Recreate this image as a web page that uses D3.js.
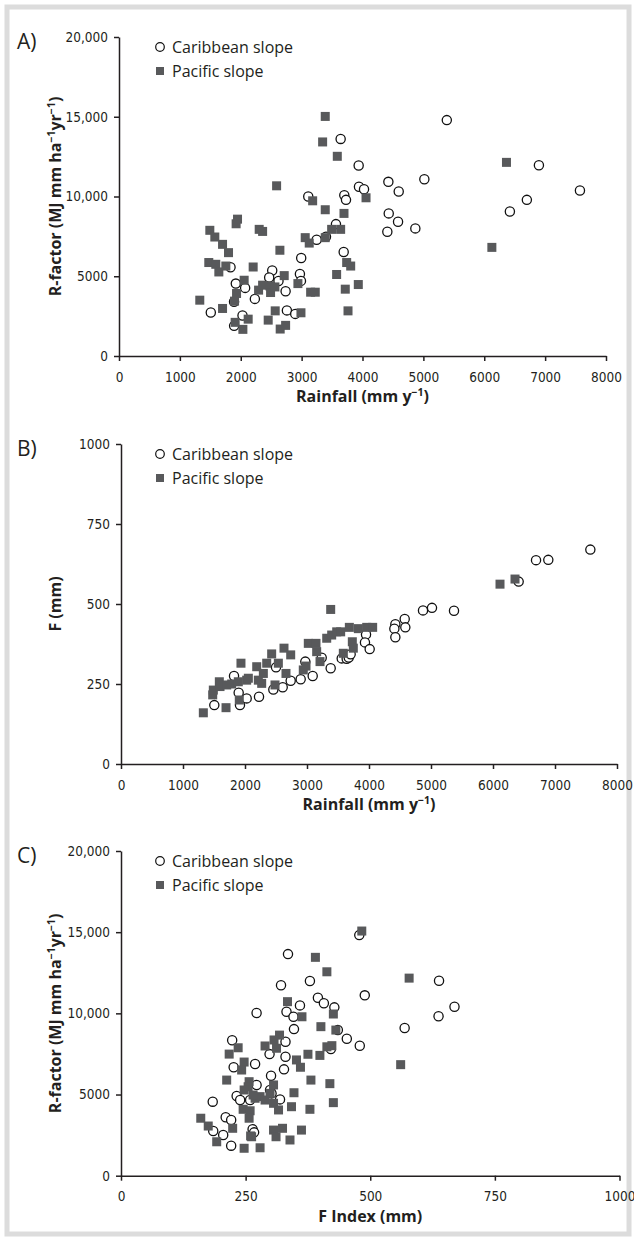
<!DOCTYPE html>
<html lang="en">
<head>
<meta charset="utf-8">
<title>R-factor, F index and rainfall</title>
<script src="https://d3js.org/d3.v7.min.js"></script>
<style>
  body { margin: 0; background: #fff; }
  .tick text { font-family: "Liberation Sans Narrow", "DejaVu Sans Condensed", sans-serif; font-size: 13.5px; fill: #231f20; }
  .domain, .tick line { stroke: #231f20; stroke-width: 1.5px; }
  .title { font-family: "Open Sans", "Noto Sans", sans-serif; font-weight: bold; font-size: 16px; fill: #231f20; }
  .legend { font-family: "Open Sans", "Noto Sans", sans-serif; font-size: 16px; fill: #231f20; }
  .panel-label { font-family: "Open Sans", "Noto Sans", sans-serif; font-size: 21px; fill: #231f20; }
</style>
</head>
<body>
<script>
// legend + tick labels
const seriesNames = ["Caribbean slope", "Pacific slope"];
const rainTicks = [0, 1000, 2000, 3000, 4000, 5000, 6000, 7000, 8000];
const rTicks = [0, 5000, 10000, 15000, 20000];
const rTickLabels = ["0", "5000", "10,000", "15,000", "20,000"];
const fTicks = [0, 250, 500, 750, 1000];

// A) rainfall (mm/yr) vs R-factor
const caribRainR = [
  [3641, 13610], [3937, 11940], [3942, 10610], [4025, 10460], [4425, 10920], [4595, 10310],
  [3109, 10000], [3701, 10080], [3729, 9790], [4431, 8940], [4584, 8420], [4408, 7790],
  [4868, 8000], [3564, 8270], [3247, 7290], [3400, 7480], [3691, 6520], [2993, 6140],
  [1832, 5560], [2517, 5360], [2467, 4920], [2972, 5140], [2989, 4710], [1919, 4540],
  [2072, 4270], [2620, 4700], [2737, 4060], [2232, 3580], [1508, 2730], [2029, 2540],
  [2758, 2860], [2895, 2640], [1891, 1890], [1890, 3400], [5385, 14790], [6898, 11960],
  [7572, 10380], [6700, 9790], [6421, 9060], [5016, 11080]
];
const pacificRainR = [
  [3345, 13420], [3586, 12520], [2589, 10670], [3181, 9730], [3388, 9170], [3696, 8940],
  [4058, 9920], [1947, 8580], [1924, 8290], [1492, 7880], [1574, 7460], [1701, 7000],
  [1799, 6480], [2303, 7940], [2359, 7810], [2643, 6630], [3059, 7420], [3125, 7080],
  [3388, 7420], [3493, 7940], [3641, 7940], [1475, 5860], [1590, 5750], [1640, 5270],
  [1755, 5640], [2204, 5580], [2714, 5040], [3575, 5110], [3740, 5860], [3806, 5640],
  [3717, 4190], [3931, 4480], [1327, 3500], [1701, 2980], [1898, 3440], [1931, 3920],
  [2056, 4750], [2122, 2310], [2293, 4130], [2359, 4440], [2479, 4390], [2490, 3980],
  [2561, 4330], [2939, 4540], [3148, 4000], [3224, 4000], [2566, 2830], [2451, 2250],
  [2648, 1690], [2737, 1920], [2989, 2710], [2035, 1670], [1908, 2110], [3762, 2830],
  [3388, 15020], [6365, 12140], [6125, 6810]
];

// B) rainfall vs F (mm)
const caribRainF = [
  [1505, 184], [1823, 275], [1898, 223], [1919, 184], [2027, 205], [2226, 210],
  [2457, 233], [2608, 240], [2500, 302], [2737, 260], [2898, 265], [2973, 320],
  [3092, 275], [3237, 332], [3382, 299], [3560, 330], [3640, 329], [3673, 333],
  [3704, 343], [3952, 405], [3935, 380], [4011, 359], [4425, 437], [4576, 453],
  [4586, 427], [4409, 423], [4425, 396], [4871, 480], [5016, 488], [5371, 479],
  [6414, 570], [6694, 637], [6892, 638], [7570, 670]
];
const pacificRainF = [
  [1328, 160], [1694, 176], [1479, 216], [1489, 231], [1586, 257], [1597, 242],
  [1705, 247], [1785, 250], [1892, 257], [1935, 315], [1908, 200], [2027, 262],
  [2054, 268], [2189, 304], [2215, 262], [2269, 252], [2296, 283], [2350, 315],
  [2430, 344], [2538, 315], [2629, 362], [2737, 341], [2661, 283], [2484, 247],
  [2940, 294], [2984, 306], [3021, 377], [3145, 377], [3156, 351], [3210, 320],
  [3318, 393], [3398, 403], [3479, 413], [3382, 483], [3543, 413], [3586, 346],
  [3683, 427], [3731, 382], [3747, 362], [3828, 423], [3963, 427], [4059, 427],
  [6113, 562], [6355, 578]
];

// C) F index vs R-factor
const caribFR = [
  [478, 14820], [335, 13650], [321, 11730], [379, 11990], [395, 10960], [407, 10620],
  [428, 10370], [489, 11110], [359, 10490], [272, 10020], [332, 10100], [346, 9790],
  [347, 9030], [435, 8970], [453, 8440], [479, 8000], [421, 7800], [569, 9100],
  [223, 8340], [330, 8250], [298, 7490], [330, 7330], [269, 6880], [226, 6680],
  [327, 6550], [301, 6160], [272, 5590], [299, 5280], [302, 5070], [319, 4700],
  [232, 4910], [239, 4660], [184, 4560], [259, 4660], [210, 3600], [221, 3430],
  [185, 2750], [205, 2510], [264, 2860], [267, 2670], [221, 1850], [638, 12010],
  [669, 10410], [637, 9820]
];
const pacificFR = [
  [483, 15070], [390, 13450], [413, 12560], [578, 12170], [561, 6840], [334, 10720],
  [363, 9790], [426, 9960], [401, 9180], [431, 8970], [318, 8660], [307, 8360],
  [289, 7990], [312, 7850], [235, 7880], [217, 7490], [247, 7000], [242, 6510],
  [212, 5890], [352, 7130], [360, 6680], [375, 7480], [399, 7410], [413, 7940],
  [423, 8010], [381, 5890], [419, 5670], [347, 5110], [426, 4500], [342, 4250],
  [379, 4090], [257, 5790], [255, 5480], [247, 5280], [269, 4770], [279, 4870],
  [289, 4660], [299, 5070], [306, 5590], [306, 4460], [316, 4050], [245, 4090],
  [259, 4000], [257, 3540], [160, 3540], [175, 3060], [224, 2920], [260, 2450],
  [306, 2810], [324, 2920], [362, 2810], [311, 2400], [339, 2200], [192, 2090],
  [247, 1690], [279, 1720], [262, 2400], [265, 4970]
];

const width = 634;
const height = 1239;

const svg = d3.select("body")
  .append("svg")
  .attr("width", width)
  .attr("height", height);

// light grey frame round the figure
svg.append("rect")
  .attr("x", 7).attr("y", 7)
  .attr("width", width - 12).attr("height", height - 12)
  .attr("fill", "none")
  .attr("stroke", "#dcdcdc")
  .attr("stroke-width", 5);

const squareFill = "#58595b";

// text with superscript parts: [[text, isSup], ...]
function addRichText(sel, parts) {
  let raised = false;
  parts.forEach(([t, sup]) => {
    const ts = sel.append("tspan").text(t);
    if (sup) {
      ts.attr("font-size", "10.5px").attr("dy", raised ? null : -6);
      raised = true;
    } else {
      if (raised) ts.attr("dy", 6);
      raised = false;
    }
  });
}

function drawPanel(p) {
  const x = d3.scaleLinear().domain(p.xDomain).range([p.left, p.right]);
  const y = d3.scaleLinear().domain(p.yDomain).range([p.bottom, p.top]);

  const g = svg.append("g");

  g.append("g")
    .attr("transform", "translate(0," + p.bottom + ")")
    .call(d3.axisBottom(x).tickValues(p.xTicks).tickSize(5).tickSizeOuter(0).tickPadding(11)
      .tickFormat((d, i) => p.xLabels[i]));

  g.append("g")
    .attr("transform", "translate(" + p.left + ",0)")
    .call(d3.axisLeft(y).tickValues(p.yTicks).tickSize(5).tickSizeOuter(0).tickPadding(6)
      .tickFormat((d, i) => p.yLabels[i]));

  g.selectAll(".domain").attr("fill", "none");

  // circles first, squares drawn over them
  g.selectAll("circle.carib")
    .data(p.carib)
    .join("circle")
    .attr("class", "carib")
    .attr("cx", d => x(d[0]))
    .attr("cy", d => y(d[1]))
    .attr("r", 4.6)
    .attr("fill", "#fff")
    .attr("stroke", "#111")
    .attr("stroke-width", 1.3);

  g.selectAll("rect.pacific")
    .data(p.pacific)
    .join("rect")
    .attr("class", "pacific")
    .attr("x", d => x(d[0]) - 4.5)
    .attr("y", d => y(d[1]) - 4.5)
    .attr("width", 9)
    .attr("height", 9)
    .attr("fill", squareFill);

  // panel letter
  g.append("text")
    .attr("class", "panel-label")
    .attr("x", 17)
    .attr("y", p.top + 12)
    .text(p.label);

  // legend
  const lg = g.append("g").attr("transform", "translate(160," + (p.top + 10) + ")");
  lg.append("circle").attr("cx", 0).attr("cy", 0).attr("r", 4.3)
    .attr("fill", "#fff").attr("stroke", "#111").attr("stroke-width", 1.2);
  lg.append("rect").attr("x", -4).attr("y", 20).attr("width", 8).attr("height", 8)
    .attr("fill", squareFill);
  lg.selectAll("text")
    .data(seriesNames)
    .join("text")
    .attr("class", "legend")
    .attr("x", 12)
    .attr("y", (d, i) => i * 24 + 5.5)
    .text(d => d);

  // axis titles
  const xt = g.append("text")
    .attr("class", "title")
    .attr("text-anchor", "middle")
    .attr("x", (p.left + p.right) / 2)
    .attr("y", p.bottom + 46);
  addRichText(xt, p.xTitle);

  const yt = g.append("text")
    .attr("class", "title")
    .attr("text-anchor", "middle")
    .attr("transform", "translate(61," + (p.top + p.bottom) / 2 + ") rotate(-90)");
  addRichText(yt, p.yTitle);
}

const rainLabels = rainTicks.map(String);
const rainTitle = [["Rainfall (mm y"], ["\u22121", true], [")"]];
const rTitle = [["R-factor (MJ mm ha"], ["\u22121", true], ["yr"], ["\u22121", true], [")"]];

drawPanel({
  label: "A)", left: 119, right: 606, top: 37, bottom: 356,
  xDomain: [0, 8000], yDomain: [0, 20000],
  xTicks: rainTicks, xLabels: rainLabels, yTicks: rTicks, yLabels: rTickLabels,
  xTitle: rainTitle, yTitle: rTitle,
  carib: caribRainR, pacific: pacificRainR
});

drawPanel({
  label: "B)", left: 121, right: 617, top: 444, bottom: 764,
  xDomain: [0, 8000], yDomain: [0, 1000],
  xTicks: rainTicks, xLabels: rainLabels, yTicks: fTicks, yLabels: fTicks.map(String),
  xTitle: rainTitle, yTitle: [["F (mm)"]],
  carib: caribRainF, pacific: pacificRainF
});

drawPanel({
  label: "C)", left: 121, right: 619.5, top: 851, bottom: 1175.7,
  xDomain: [0, 1000], yDomain: [0, 20000],
  xTicks: fTicks, xLabels: fTicks.map(String), yTicks: rTicks, yLabels: rTickLabels,
  xTitle: [["F Index (mm)"]], yTitle: rTitle,
  carib: caribFR, pacific: pacificFR
});
</script>
</body>
</html>
